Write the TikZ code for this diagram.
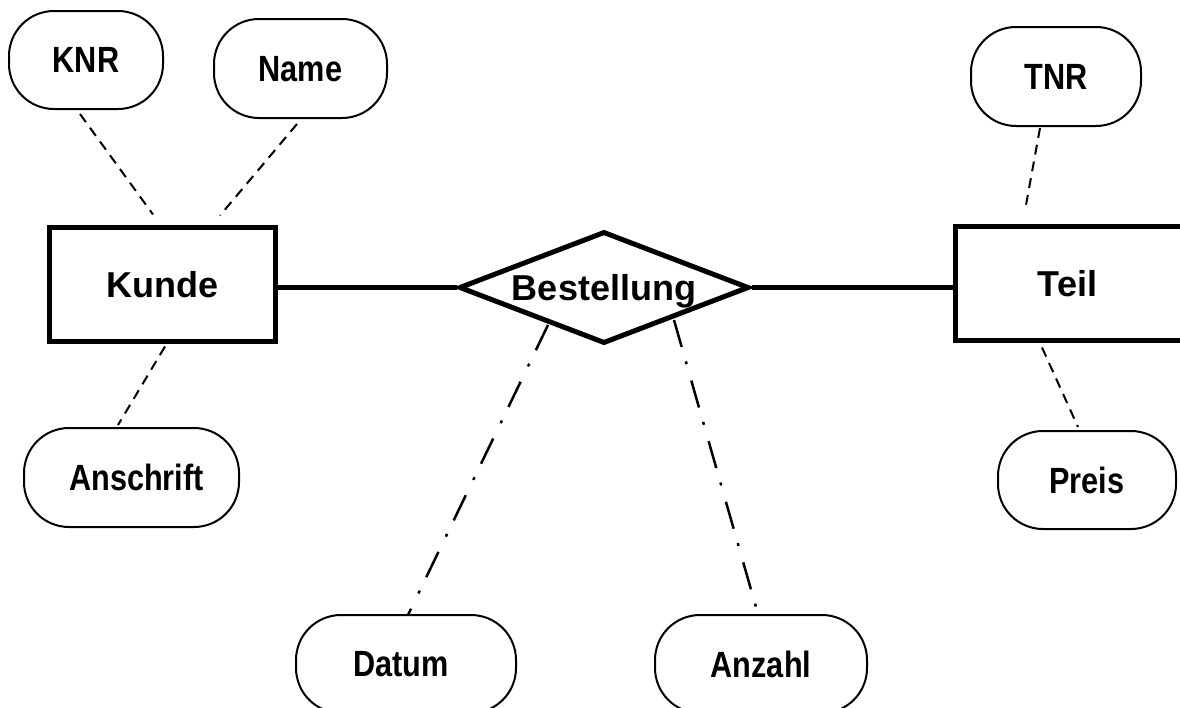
\documentclass[tikz,border=0pt]{standalone}
\usepackage{fontspec}
\setmainfont{Liberation Sans}
\newfontfamily\narrowfont{Liberation Sans}[FakeStretch=0.84]
\usetikzlibrary{shapes.geometric,calc}
\begin{document}
\begin{tikzpicture}[x=1pt,y=-1pt,
  entity/.style={draw, line width=5pt, rectangle, inner sep=0pt, text depth=0pt,
    font=\fontsize{36}{40}\selectfont\bfseries},
  attrib/.style={draw, line width=2pt, rectangle, rounded corners=45pt, inner sep=0pt, text depth=0pt,
    font=\narrowfont\fontsize{36.5}{40}\selectfont\bfseries},
  relship/.style={draw, line width=5pt, diamond, aspect=2.55, inner sep=0pt, text depth=0pt,
    font=\fontsize{36}{40}\selectfont\bfseries},
  link/.style={line width=5pt},
  attlink/.style={line width=2pt, dash pattern=on 10pt off 7pt},
  rellink/.style={line width=2.5pt, dash pattern=on 28pt off 15pt on 3pt off 17pt}]
\useasboundingbox (0,0) rectangle (1180,707);
\clip (0,0) rectangle (1180,707);

% entities and relationship
\node[entity, minimum width=226pt, minimum height=114pt] (kunde) at (162.5,284.5) {Kunde};
\node[entity, minimum width=240pt, minimum height=114pt] (teil) at (1075.5,283.5) {Teil\hspace*{16pt}};
\node[relship, minimum width=290pt, minimum height=112pt] (bes) at (604,287.5) {Bestellung};

% attributes
\node[attrib, minimum width=154pt, minimum height=98pt] (knr) at (86,60) {KNR};
\node[attrib, minimum width=173pt, minimum height=99pt] (name) at (300.5,68.5) {Name};
\node[attrib, minimum width=215pt, minimum height=99pt] (anschrift) at (131.5,477.5) {Anschrift\hspace*{-10pt}};
\node[attrib, minimum width=170pt, minimum height=99pt] (tnr) at (1056,76.5) {TNR};
\node[attrib, minimum width=178pt, minimum height=98pt] (preis) at (1087,480) {Preis};
\node[attrib, minimum width=220pt, minimum height=98pt] (datum) at (406,664) {Datum\hspace*{10pt}};
\node[attrib, minimum width=212pt, minimum height=98pt] (anzahl) at (761,664) {Anzahl};

% relationship links
\draw[link] (kunde.east |- bes.west) -- (bes.west);
\draw[link] (bes.east) -- (teil.west |- bes.east);

% attribute links
\draw[attlink] ($(knr.south)+(-6,4)$) -- ($(kunde.north)+(-9.5,-10.5)$);
\draw[attlink] ($(name.south)+(-3.5,5)$) -- ($(kunde.north)+(57.5,-9.5)$);
\draw[attlink] ($(kunde.south)+(2.5,2.5)$) -- ($(anschrift.north)+(-13.5,-2)$);
\draw[attlink] ($(tnr.south)+(-16,1)$) -- ($(teil.north)+(-50.5,-13.5)$);
\draw[attlink] ($(teil.south)+(-33.5,4.5)$) -- ($(preis.north)+(-9,-3)$);
\draw[rellink] ($(bes.center)+(-56,37.5)$) -- ($(datum.north)+(2,1)$);
\draw[rellink] ($(bes.center)+(70,32.5)$) -- ($(anzahl.north)+(-3,0)$);
\end{tikzpicture}
\end{document}
